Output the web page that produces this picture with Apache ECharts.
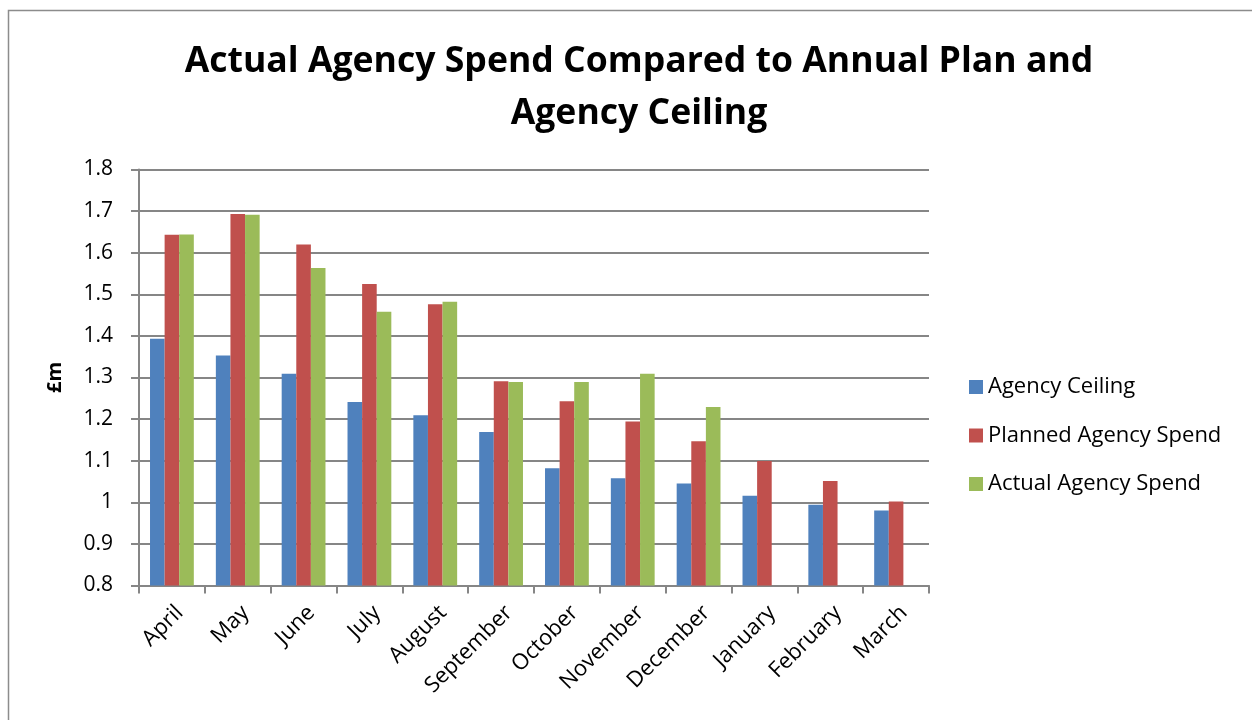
<!DOCTYPE html>
<html>
<head>
<meta charset="utf-8">
<script src="https://cdn.jsdelivr.net/npm/echarts@6/dist/echarts.min.js"></script>
<style>
  html, body { margin: 0; padding: 0; background: #fff; }
  #chart { width: 1252px; height: 720px; }
</style>
</head>
<body>
<div id="chart"></div>
<script>
// Months of the financial year
const months = ['April', 'May', 'June', 'July', 'August', 'September', 'October',
  'November', 'December', 'January', 'February', 'March'];

// Spend in £m
const agencyCeiling = [1.393, 1.353, 1.309, 1.241, 1.209, 1.169, 1.082, 1.058, 1.045, 1.016, 0.994, 0.980];
const plannedSpend  = [1.643, 1.693, 1.620, 1.525, 1.476, 1.291, 1.243, 1.194, 1.147, 1.099, 1.051, 1.002];
const actualSpend   = [1.644, 1.691, 1.563, 1.458, 1.482, 1.289, 1.289, 1.309, 1.229, null, null, null];

const seriesNames = ['Agency Ceiling', 'Planned Agency Spend', 'Actual Agency Spend'];
const colors = ['#4F81BD', '#C0504D', '#9BBB59'];

const font = "'Open Sans', 'Noto Sans', sans-serif";

const chart = echarts.init(document.getElementById('chart'));

chart.setOption({
  animation: false,
  color: colors,
  title: {
    text: 'Actual Agency Spend Compared to Annual Plan and\nAgency Ceiling',
    left: 634,
    textAlign: 'center',
    top: 31,
    textStyle: {
      fontFamily: font,
      fontWeight: 'bold',
      fontSize: 35.6,
      lineHeight: 52,
      color: '#000'
    }
  },
  graphic: [{
    type: 'rect',
    shape: { x: 8.5, y: 10.5, width: 1260, height: 720 },
    style: { fill: 'none', stroke: '#8c8c8c', lineWidth: 1.5 },
    silent: true
  }],
  legend: {
    orient: 'vertical',
    left: 964,
    top: 371,
    itemWidth: 14,
    itemHeight: 14,
    itemGap: 26.5,
    itemTextGap: 7,
    icon: 'rect',
    textStyle: { fontFamily: font, fontSize: 22, color: '#000' },
    data: seriesNames
  },
  grid: {
    left: 139,
    right: 323,
    top: 169.5,
    bottom: 134.5,
    containLabel: false
  },
  xAxis: {
    type: 'category',
    data: months,
    axisLine: { lineStyle: { color: '#868686', width: 2 } },
    axisTick: { show: true, length: 8, lineStyle: { color: '#868686', width: 2 } },
    axisLabel: {
      rotate: 45,
      margin: 16,
      verticalAlign: 'top',
      fontFamily: font,
      fontSize: 22,
      color: '#000'
    }
  },
  yAxis: {
    type: 'value',
    min: 0.8,
    max: 1.8,
    interval: 0.1,
    name: '£m',
    nameLocation: 'middle',
    nameRotate: 90,
    nameGap: 74,
    nameTextStyle: { fontFamily: font, fontWeight: 'bold', fontSize: 20, color: '#000' },
    axisLine: { show: true, lineStyle: { color: '#868686', width: 2 } },
    axisTick: { show: true, length: 8, lineStyle: { color: '#868686', width: 2 } },
    splitLine: { lineStyle: { color: '#868686', width: 2 } },
    axisLabel: {
      margin: 26,
      fontFamily: font,
      fontSize: 21,
      color: '#000',
      formatter: v => String(Math.round(v * 10) / 10)
    }
  },
  series: [
    { name: seriesNames[0], type: 'bar', data: agencyCeiling, barWidth: 14.6, barGap: '0%' },
    { name: seriesNames[1], type: 'bar', data: plannedSpend, barWidth: 14.6, barGap: '0%' },
    { name: seriesNames[2], type: 'bar', data: actualSpend, barWidth: 14.6, barGap: '0%' }
  ]
});
</script>
</body>
</html>
